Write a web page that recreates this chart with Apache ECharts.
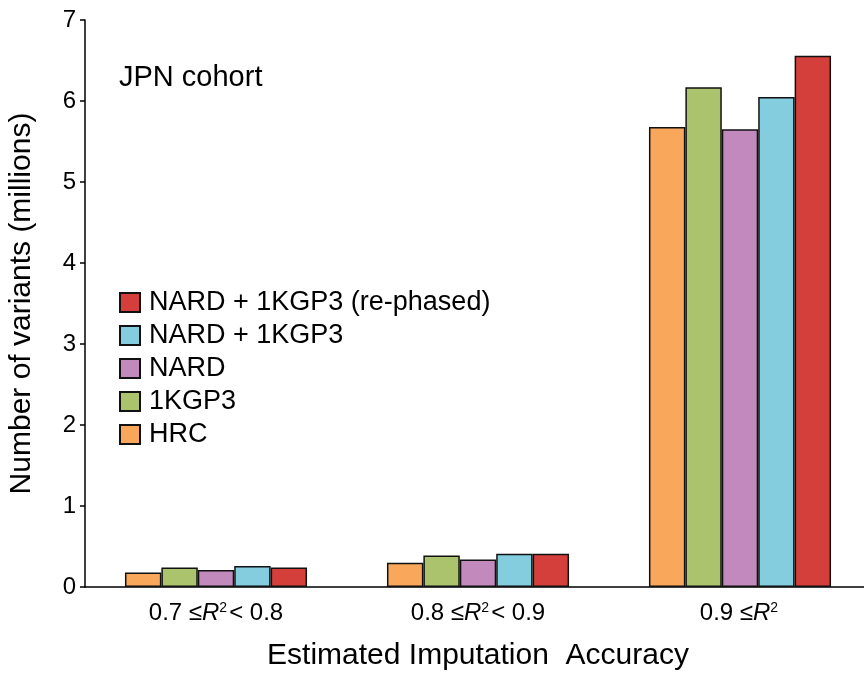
<!DOCTYPE html>
<html>
<head>
<meta charset="utf-8">
<script src="https://cdn.jsdelivr.net/npm/echarts@6/dist/echarts.min.js"></script>
<style>html,body{margin:0;padding:0;background:#fff}#c{width:864px;height:674px}</style>
</head>
<body>
<div id="c"></div>
<script>
const categories = ['0.7 ≤{i|R}{s|2}< 0.8', '0.8 ≤{i|R}{s|2}< 0.9', '0.9 ≤{i|R}{s|2}'];
const seriesNames = ['HRC', '1KGP3', 'NARD', 'NARD + 1KGP3', 'NARD + 1KGP3 (re-phased)'];
const hrc = [0.18, 0.30, 5.68];
const kgp3 = [0.24, 0.39, 6.17];
const nard = [0.21, 0.34, 5.65];
const nardKgp3 = [0.26, 0.41, 6.05];
const rephased = [0.24, 0.41, 6.56];
const colors = ['#F9A75B', '#ABC36D', '#C189BC', '#83CDDE', '#D43F3B'];
const yTicks = [0, 1, 2, 3, 4, 5, 6, 7];

const values = [hrc, kgp3, nard, nardKgp3, rephased];
const font = 'Liberation Sans, Arial, sans-serif';
const chart = echarts.init(document.getElementById('c'), null, {renderer: 'canvas'});
chart.setOption({
  animation: false,
  backgroundColor: '#ffffff',
  textStyle: {fontFamily: font, color: '#000'},
  title: {
    text: 'JPN cohort', left: 114, top: 58,
    textStyle: {fontFamily: font, fontSize: 29, fontWeight: 'normal', color: '#000'}
  },
  legend: {
    orient: 'vertical', left: 114, top: 284,
    data: seriesNames.slice().reverse(),
    itemWidth: 20, itemHeight: 19, itemGap: 6,
    icon: 'rect',
    textStyle: {fontFamily: font, fontSize: 27, color: '#000', padding: [0, 0, 0, 4]}
  },
  grid: {left: 85, top: 20, width: 786, height: 567, containLabel: false, outerBoundsMode: 'none'},
  xAxis: {
    type: 'category',
    data: categories,
    name: 'Estimated Imputation  Accuracy',
    nameLocation: 'middle', nameGap: 54,
    nameTextStyle: {fontFamily: font, fontSize: 30, color: '#000'},
    axisLine: {lineStyle: {color: '#000', width: 1.5}},
    axisTick: {show: false},
    axisLabel: {
      margin: 14, fontFamily: font, fontSize: 24, color: '#000',
      formatter: v => v,
      rich: {
        i: {fontFamily: font, fontSize: 24, fontStyle: 'italic', color: '#000'},
        s: {fontFamily: font, fontSize: 14, color: '#000', verticalAlign: 'top', padding: [0, 2, 9, 0]}
      }
    }
  },
  yAxis: {
    type: 'value', min: 0, max: 7, interval: 1,
    name: 'Number of variants (millions)',
    nameLocation: 'middle', nameGap: 48,
    nameTextStyle: {fontFamily: font, fontSize: 30, color: '#000'},
    axisLine: {show: true, lineStyle: {color: '#000', width: 1.5}},
    axisTick: {show: true, length: 5, lineStyle: {color: '#000', width: 1.5}},
    splitLine: {show: false},
    axisLabel: {margin: 9, fontFamily: font, fontSize: 24, color: '#000',
      formatter: v => yTicks.includes(v) ? String(v) : ''}
  },
  series: seriesNames.map((n, k) => ({
    name: n, type: 'bar', data: values[k],
    barGap: '0%', barCategoryGap: '30.5%',
    itemStyle: {color: colors[k], borderColor: '#111', borderWidth: 1.5}
  }))
});
</script>
</body>
</html>
